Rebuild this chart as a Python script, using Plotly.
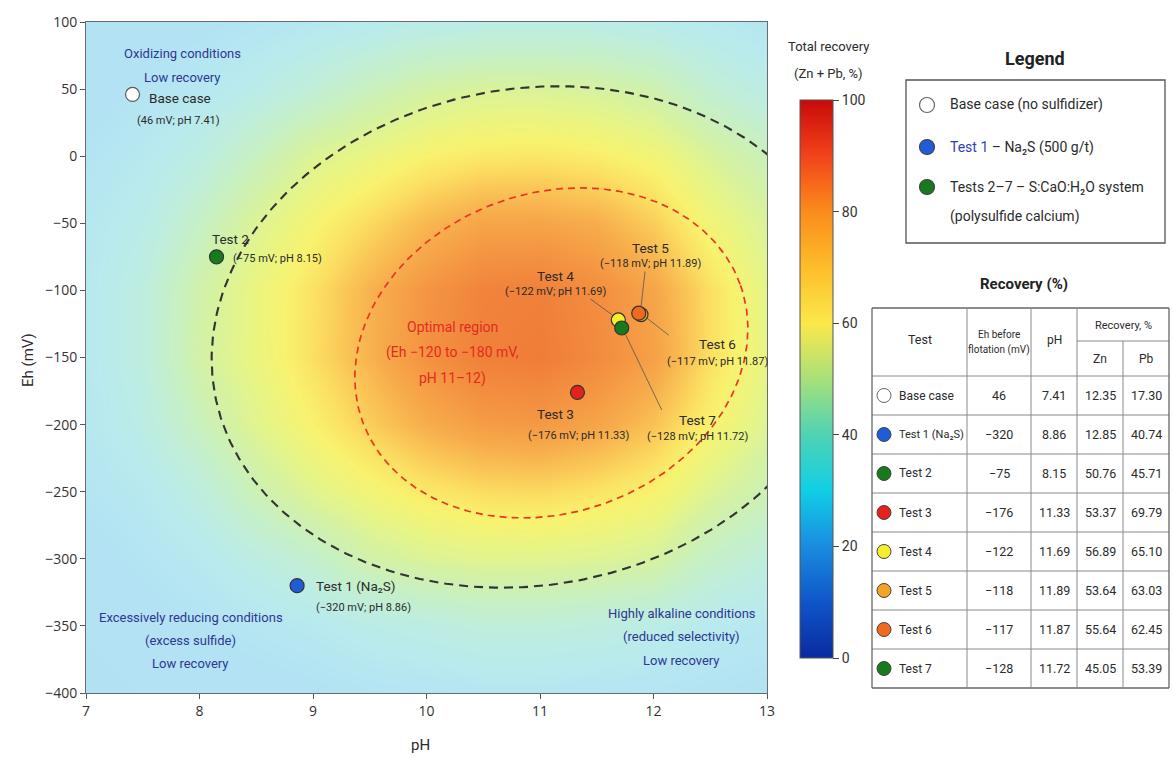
import numpy as np
import plotly.graph_objects as go

W, H = 1173, 757

# ---------------- flotation test data ----------------
tests = ["Base case", "Test 1", "Test 2", "Test 3", "Test 4", "Test 5", "Test 6", "Test 7"]
table_names = ["Base case", "Test 1 (Na\u2082S)", "Test 2", "Test 3",
               "Test 4", "Test 5", "Test 6", "Test 7"]
eh_mv = [46, -320, -75, -176, -122, -118, -117, -128]
ph = [7.41, 8.86, 8.15, 11.33, 11.69, 11.89, 11.87, 11.72]
zn_rec = [12.35, 12.85, 50.76, 53.37, 56.89, 53.64, 55.64, 45.05]
pb_rec = [17.30, 40.74, 45.71, 69.79, 65.10, 63.03, 62.45, 53.39]
marker_colors = ["#ffffff", "#1f5cd6", "#177a1c", "#e3221b", "#f4ef2a",
                 "#f3a424", "#f06a1e", "#177a1c"]

# ---------------- total recovery field (Zn + Pb, %) ----------------
grid_ph = [7.0, 7.5, 8.0, 8.5, 9.0, 9.5, 10.0, 10.5, 11.0, 11.5, 12.0, 12.5, 13.0]
grid_eh = [100, 50, 0, -50, -100, -150, -200, -250, -300, -350, -400]
recovery_field = [
    [24, 25, 26, 28, 30, 32, 34, 35, 35, 35, 33, 31, 29],
    [25, 27.5, 30, 34, 39, 44.5, 49, 51, 51, 50, 47, 40, 35],
    [27.5, 31, 36, 44, 52, 56, 60, 62, 62.5, 61, 58, 51, 45],
    [30, 34, 43, 52, 59, 65, 71, 75, 75, 73, 67, 58, 51],
    [30.5, 37, 48, 56, 63.5, 72, 79, 84, 85, 81, 75, 64, 54],
    [30.5, 37, 49, 56, 64, 72, 80, 85, 86, 82, 76, 64, 55],
    [30, 35, 44.5, 53, 60, 67, 73, 77, 78, 75, 69, 60, 52],
    [28, 31, 37, 46, 53, 58, 62, 64.5, 65, 63, 60, 52, 46],
    [25, 28, 31, 36, 41, 48, 51.5, 53, 53, 52, 50, 42, 37.5],
    [24, 25, 27, 29, 31, 34, 36, 38, 38, 37, 35, 32, 30],
    [23, 24, 24.5, 25, 26, 27.5, 28, 29, 29, 28.5, 28, 27, 26],
]

colorbar_ticks = [0, 20, 40, 60, 80, 100]

# region outlines: centre (pH, mV), semi-axes (pH, mV), tilt in degrees
OUTER_ZONE = dict(cx=10.91, cy=-134.7, a_ph=2.82, b_mv=185.0, tilt=10)
OPTIMAL_ZONE = dict(cx=11.10, cy=-146.6, a_ph=1.77, b_mv=119.0, tilt=20)

FONT = "Roboto, 'Open Sans', sans-serif"
NAVY = "#2d3791"
RED = "#e32b1f"
TXT = "#2b2b2b"

FIELD_SCALE = [
    [0.00, "#aedcf5"], [0.26, "#b2e2f4"], [0.32, "#b8eaee"], [0.38, "#bfeedb"],
    [0.44, "#c8f0c0"], [0.50, "#d6f2a0"], [0.55, "#e8f584"], [0.60, "#f8f26e"],
    [0.64, "#fbe062"], [0.68, "#fac857"], [0.73, "#f7ad4c"], [0.79, "#f49542"],
    [0.85, "#f0803a"], [0.92, "#ec6c32"], [1.00, "#e55a2a"],
]
BAR_SCALE = [
    [0.00, "#0a2aa0"], [0.10, "#0f55c8"], [0.20, "#1a8ce0"], [0.30, "#10cfe6"],
    [0.40, "#4fd3b4"], [0.50, "#a8e07a"], [0.60, "#fbe84a"], [0.70, "#fdbd2a"],
    [0.80, "#fb8c1c"], [0.90, "#f2431a"], [1.00, "#c80a0a"],
]

# plot area in pixels
PX_L, PX_R, PX_T, PX_B = 86, 767, 22, 693
MV_PER_PH = ((PX_R - PX_L) / 6.0) / ((PX_B - PX_T) / 500.0)


def px(x):
    return x / W


def py(y):
    return 1 - y / H


def ellipse(cx, cy, a_ph, b_mv, tilt, n=361):
    t = np.linspace(0, 2 * np.pi, n)
    th = np.radians(tilt)
    b_ph = b_mv / MV_PER_PH
    xs = cx + a_ph * np.cos(t) * np.cos(th) - b_ph * np.sin(t) * np.sin(th)
    ys = cy + MV_PER_PH * (a_ph * np.cos(t) * np.sin(th) + b_ph * np.sin(t) * np.cos(th))
    return xs, ys


def mv_text(v):
    return f"\u2212{abs(v)}" if v < 0 else f"{v}"


fig = go.Figure()

# recovery surface
fig.add_trace(go.Heatmap(
    x=grid_ph, y=grid_eh[::-1], z=recovery_field[::-1],
    zmin=0, zmax=100, zsmooth="best", colorscale=FIELD_SCALE,
    showscale=False, hoverinfo="skip",
))

# zone outlines
for zone, col, wid, dash in [(OUTER_ZONE, "#333333", 2.1, "9px,6px"),
                             (OPTIMAL_ZONE, "#e8352a", 1.7, "7px,5px")]:
    ex, ey = ellipse(**zone)
    fig.add_trace(go.Scatter(x=ex, y=ey, mode="lines", hoverinfo="skip",
                             line=dict(color=col, width=wid, dash=dash)))

# colour bar for total recovery
fig.add_trace(go.Scatter(
    x=[None], y=[None], mode="markers", hoverinfo="skip",
    marker=dict(color=[0], cmin=0, cmax=100, colorscale=BAR_SCALE, showscale=True,
                colorbar=dict(x=px(800), xanchor="left", xpad=0,
                              y=py(658), yanchor="bottom", ypad=0,
                              len=558, lenmode="pixels", thickness=33,
                              outlinewidth=1, outlinecolor="#555",
                              ticks="outside", ticklen=6, tickcolor="#444",
                              tickvals=colorbar_ticks,
                              tickfont=dict(family=FONT, size=14, color="#333"))),
))

# test points
outline = ["#5a5a5a" if c == "#ffffff" else "#333333" for c in marker_colors]
fig.add_trace(go.Scatter(
    x=ph, y=eh_mv, mode="markers", hoverinfo="skip",
    marker=dict(size=14, color=marker_colors, line=dict(color=outline, width=1.2)),
))

ann = []
shapes = []

# point labels: (dx, dy, anchor) pixel offsets for the name and the Eh/pH line
point_labels = {
    "Base case": dict(t=(14, -4, "left"), s=(2, -26, "left")),
    "Test 1": dict(t=(17, 0, "left"), s=(17, -22, "left")),
    "Test 2": dict(t=(-7, 18, "left"), s=(14, -2, "left")),
    "Test 3": dict(t=(-22, -22, "center"), s=(1, -43, "center")),
    "Test 4": dict(t=(-63, 44, "center"), s=(-63, 28, "center"), lead=(-6, 5, -28, 21)),
    "Test 5": dict(t=(9, 67, "center"), s=(9, 51, "center"), lead=(0, 8, 4, 43)),
    "Test 6": dict(t=(79, -31, "center"), s=(79, -48, "center"), lead=(7, -4, 30, -22)),
    "Test 7": dict(t=(76, -92, "center"), s=(76, -109, "center"), lead=(4, -7, 40, -82)),
}

for i, name in enumerate(tests):
    head = table_names[i] if name == "Test 1" else name
    sub = f"({mv_text(eh_mv[i])} mV; pH {ph[i]:.2f})"
    lay = point_labels[name]
    for txt, (dx, dy, anc), size in [(head, lay["t"], 13.5), (sub, lay["s"], 11)]:
        ann.append(dict(x=ph[i], y=eh_mv[i], xref="x", yref="y", text=txt,
                        showarrow=False, xanchor=anc, yanchor="middle",
                        xshift=dx, yshift=dy,
                        font=dict(family=FONT, size=size, color=TXT)))
    if "lead" in lay:
        x0, y0, x1, y1 = lay["lead"]
        shapes.append(dict(type="line", xref="x", yref="y",
                           xsizemode="pixel", ysizemode="pixel",
                           xanchor=ph[i], yanchor=eh_mv[i],
                           x0=x0, y0=y0, x1=x1, y1=y1,
                           line=dict(color="#555", width=0.8)))

# zone notes
notes = [
    (7.846, 76.9, ["Oxidizing conditions", "Low recovery"], NAVY, 13, 24),
    (7.925, -344, ["Excessively reducing conditions", "(excess sulfide)", "Low recovery"], NAVY, 13, 23),
    (12.25, -340.4, ["Highly alkaline conditions", "(reduced selectivity)", "Low recovery"], NAVY, 13, 23.5),
    (10.225, -127.3, ["Optimal region", "(Eh \u2212120 to \u2212180 mV,", "pH 11\u201312)"], RED, 14, 25.5),
]
for x0, y0, lines, col, size, gap in notes:
    for k, line in enumerate(lines):
        ann.append(dict(x=x0, y=y0, xref="x", yref="y", text=line, showarrow=False,
                        xanchor="center", yanchor="middle",
                        yshift=-k * gap, font=dict(family=FONT, size=size, color=col)))


def paper_text(x, y, text, size, color=TXT, anchor="center", **kw):
    ann.append(dict(x=px(x), y=py(y), xref="paper", yref="paper", text=text,
                    showarrow=False, xanchor=anchor, yanchor="middle",
                    font=dict(family=FONT, size=size, color=color), **kw))


# axis titles
paper_text(28, 360, "Eh (mV)", 15, textangle=-90)
paper_text(420, 745, "pH", 15)

# colour bar title
for k, line in enumerate(["Total recovery", "(Zn + Pb, %)"]):
    paper_text(828, 47 + 27 * k, line, 13)

# ---------------- legend panel ----------------
paper_text(1035, 58, "<b>Legend</b>", 18, "#222")
shapes.append(dict(type="rect", xref="paper", yref="paper", x0=px(906), x1=px(1165),
                   y0=py(243), y1=py(80), line=dict(color="#555", width=1.3)))
legend_items = [
    (105, marker_colors[0], ["Base case (no sulfidizer)"]),
    (147, marker_colors[1], ["<span style='color:#2f3fb5'>Test 1</span> \u2013 Na\u2082S (500 g/t)"]),
    (187, marker_colors[2], ["Tests 2\u20137 \u2013 S:CaO:H\u2082O system", "(polysulfide calcium)"]),
]
for yy, col, lines in legend_items:
    r = 7.5
    shapes.append(dict(type="circle", xref="paper", yref="paper",
                       x0=px(927 - r), x1=px(927 + r), y0=py(yy + r), y1=py(yy - r),
                       fillcolor=col, line=dict(color="#444" if col != "#ffffff" else "#666", width=1.2)))
    for k, line in enumerate(lines):
        paper_text(948, yy + 29 * k, line, 14, anchor="left")

# ---------------- recovery table ----------------
paper_text(1024, 284, "<b>Recovery (%)</b>", 15, "#222")
col_x = [872, 967, 1031, 1077, 1123, 1169]
t_top, t_mid, t_head, row_h = 308, 341, 376, 39
t_bot = t_head + row_h * len(tests)
grid_col = "#8a8a8a"


def hline(y, x0, x1, col=grid_col, w=1):
    shapes.append(dict(type="line", xref="paper", yref="paper", x0=px(x0), x1=px(x1),
                       y0=py(y), y1=py(y), line=dict(color=col, width=w)))


def vline(x, y0, y1, col=grid_col, w=1):
    shapes.append(dict(type="line", xref="paper", yref="paper", x0=px(x), x1=px(x),
                       y0=py(y0), y1=py(y1), line=dict(color=col, width=w)))


hline(t_top, col_x[0], col_x[-1], "#666", 1.3)
hline(t_mid, col_x[3], col_x[-1])
for k in range(len(tests)):
    hline(t_head + row_h * k, col_x[0], col_x[-1])
hline(t_bot, col_x[0], col_x[-1], "#666", 1.3)
for k, cx in enumerate(col_x):
    if k == 4:
        vline(cx, t_mid, t_bot)
    else:
        outer = k in (0, 5)
        vline(cx, t_top, t_bot, "#666" if outer else grid_col, 1.3 if outer else 1)

mid = [(col_x[k] + col_x[k + 1]) / 2 for k in range(5)]
paper_text(mid[0], 340, "Test", 12.5)
paper_text(mid[1], 334, "Eh before", 10)
paper_text(mid[1], 350, "flotation (mV)", 10)
paper_text(mid[2], 340, "pH", 12)
paper_text(col_x[4], 325, "Recovery, %", 11)
paper_text(mid[3], 359, "Zn", 12)
paper_text(mid[4], 359, "Pb", 12)
for k in range(len(tests)):
    yc = t_head + row_h * k + row_h / 2
    r = 7
    shapes.append(dict(type="circle", xref="paper", yref="paper",
                       x0=px(884 - r), x1=px(884 + r), y0=py(yc + r), y1=py(yc - r),
                       fillcolor=marker_colors[k],
                       line=dict(color="#666" if marker_colors[k] == "#ffffff" else "#444", width=1)))
    paper_text(897, yc, table_names[k], 11 if k == 1 else 12, anchor="left")
    paper_text(mid[1], yc, mv_text(eh_mv[k]), 12.5)
    paper_text(mid[2], yc, f"{ph[k]:.2f}", 12.5)
    paper_text(mid[3], yc, f"{zn_rec[k]:.2f}", 12.5)
    paper_text(mid[4], yc, f"{pb_rec[k]:.2f}", 12.5)

axis_common = dict(showgrid=False, zeroline=False, showline=True, linecolor="#6a6a6a",
                   linewidth=1, mirror=True, ticks="outside", ticklen=5, tickcolor="#555",
                   automargin=False, tickfont=dict(family="'Open Sans', sans-serif", size=14, color="#333"))

fig.update_layout(
    template="none",
    width=W, height=H,
    margin=dict(l=0, r=0, t=0, b=0),
    paper_bgcolor="white", plot_bgcolor="white",
    showlegend=False,
    xaxis=dict(domain=[px(PX_L), px(PX_R)], range=[7, 13], tick0=7, dtick=1, **axis_common),
    yaxis=dict(domain=[py(PX_B), py(PX_T)], range=[-400, 100], tick0=-400, dtick=50, **axis_common),
    annotations=ann,
    shapes=shapes,
)

fig.write_html("out.html")
